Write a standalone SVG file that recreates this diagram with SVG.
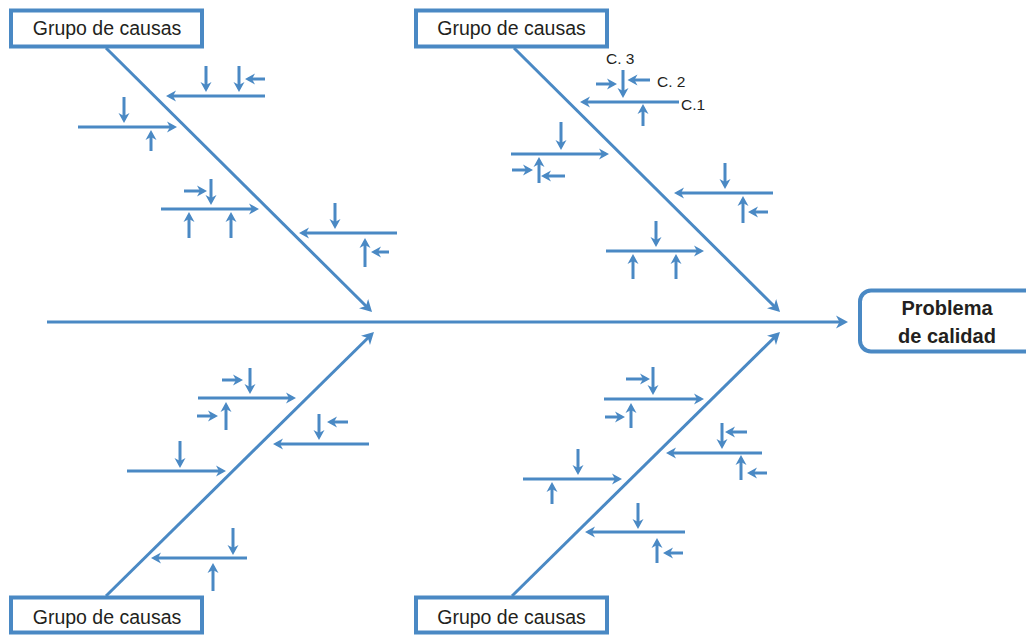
<svg xmlns="http://www.w3.org/2000/svg" width="1026" height="635" viewBox="0 0 1026 635">
<defs>
<style>
.box{fill:#fff;stroke:#4a89c4;stroke-width:4}
.lbl{font-family:"Liberation Sans",Arial,sans-serif;font-size:19.5px;fill:#231f20;text-anchor:middle}
.ttl{font-family:"Liberation Sans",Arial,sans-serif;font-size:20px;font-weight:bold;fill:#231f20;text-anchor:middle}
.c{font-family:"Liberation Sans",Arial,sans-serif;font-size:15.5px;fill:#231f20}
.main{fill:none;stroke:#4a89c4;stroke-width:3;marker-end:url(#big)}
.sub line{stroke:#4a89c4;stroke-width:3;marker-end:url(#sm)}
</style>
<marker id="sm" markerUnits="userSpaceOnUse" markerWidth="11" markerHeight="12" refX="6.5" refY="6" orient="auto">
<path d="M10,6 L0,0.5 L3,6 L0,11.5 z" fill="#4a89c4"/>
</marker>
<marker id="big" markerUnits="userSpaceOnUse" markerWidth="13" markerHeight="14" refX="7" refY="7" orient="auto">
<path d="M12,7 L0,0.5 L3.5,7 L0,13.5 z" fill="#4a89c4"/>
</marker>
</defs>
<rect width="1026" height="635" fill="#fff"/>
<g id="connectors">
<line class="main" x1="47" y1="322" x2="843" y2="322"/>
<line class="main" x1="106" y1="48" x2="368.5" y2="308.5"/>
<line class="main" x1="514" y1="48" x2="776.5" y2="308.5"/>
<line class="main" x1="106" y1="596" x2="370.4" y2="335.5"/>
<line class="main" x1="512" y1="596" x2="776.4" y2="335.5"/>
<g class="sub">
<line x1="265" y1="96" x2="169.5" y2="96"/>
<line x1="206" y1="66" x2="206" y2="88.5"/>
<line x1="239" y1="66" x2="239" y2="88.5"/>
<line x1="265" y1="79" x2="248.5" y2="79"/>
<line x1="78" y1="127" x2="173.5" y2="127"/>
<line x1="124" y1="97" x2="124" y2="119.5"/>
<line x1="151" y1="151" x2="151" y2="133.5"/>
<line x1="161" y1="209" x2="255.5" y2="209"/>
<line x1="211" y1="179" x2="211" y2="201.5"/>
<line x1="184" y1="191" x2="203.5" y2="191"/>
<line x1="189" y1="238" x2="189" y2="215.5"/>
<line x1="231" y1="238" x2="231" y2="215.5"/>
<line x1="397" y1="233" x2="302.5" y2="233"/>
<line x1="335" y1="203" x2="335" y2="225.5"/>
<line x1="365" y1="267" x2="365" y2="241.5"/>
<line x1="389" y1="252" x2="374.5" y2="252"/>
<line x1="679" y1="102" x2="583.5" y2="102"/>
<line x1="623" y1="70" x2="623" y2="94.5"/>
<line x1="596" y1="84" x2="613.5" y2="84"/>
<line x1="650" y1="80" x2="631" y2="80"/>
<line x1="643" y1="126" x2="643" y2="107.5"/>
<line x1="511" y1="154" x2="605.5" y2="154"/>
<line x1="561" y1="122" x2="561" y2="146.5"/>
<line x1="539" y1="183" x2="539" y2="160.5"/>
<line x1="512" y1="170" x2="529.5" y2="170"/>
<line x1="565" y1="176" x2="544.5" y2="176"/>
<line x1="773" y1="193" x2="677.5" y2="193"/>
<line x1="725" y1="163" x2="725" y2="185.5"/>
<line x1="743" y1="223" x2="743" y2="199.5"/>
<line x1="768" y1="212" x2="751.5" y2="212"/>
<line x1="606" y1="251" x2="700.5" y2="251"/>
<line x1="656" y1="221" x2="656" y2="243.5"/>
<line x1="633" y1="279" x2="633" y2="257.5"/>
<line x1="676" y1="279" x2="676" y2="257.5"/>
<line x1="198" y1="398" x2="292.5" y2="398"/>
<line x1="250" y1="368" x2="250" y2="390.5"/>
<line x1="222" y1="380" x2="239.5" y2="380"/>
<line x1="226" y1="430" x2="226" y2="405.5"/>
<line x1="197" y1="416" x2="214.5" y2="416"/>
<line x1="369" y1="444" x2="276.5" y2="444"/>
<line x1="319" y1="414" x2="319" y2="436.5"/>
<line x1="348" y1="422" x2="330.5" y2="422"/>
<line x1="127" y1="471" x2="222.5" y2="471"/>
<line x1="180" y1="441" x2="180" y2="464.5"/>
<line x1="247" y1="558" x2="154.5" y2="558"/>
<line x1="233" y1="528" x2="233" y2="551.5"/>
<line x1="213" y1="591" x2="213" y2="566.5"/>
<line x1="604" y1="399" x2="700.5" y2="399"/>
<line x1="653" y1="367" x2="653" y2="391.5"/>
<line x1="626" y1="379" x2="646.5" y2="379"/>
<line x1="631" y1="428" x2="631" y2="406.5"/>
<line x1="605" y1="417" x2="621.5" y2="417"/>
<line x1="762" y1="453" x2="669.5" y2="453"/>
<line x1="722" y1="423" x2="722" y2="445.5"/>
<line x1="747" y1="432" x2="728.5" y2="432"/>
<line x1="741" y1="480" x2="741" y2="458.5"/>
<line x1="767" y1="473" x2="750.5" y2="473"/>
<line x1="523" y1="479" x2="618.5" y2="479"/>
<line x1="578" y1="449" x2="578" y2="471.5"/>
<line x1="552" y1="504" x2="552" y2="485.5"/>
<line x1="685" y1="532" x2="588.5" y2="532"/>
<line x1="638" y1="503" x2="638" y2="525.5"/>
<line x1="657" y1="563" x2="657" y2="541.5"/>
<line x1="683" y1="553" x2="666.5" y2="553"/>
</g>
</g>
<g id="labels">
<text class="c" x="606" y="64">C. 3</text>
<text class="c" x="657" y="87">C. 2</text>
<text class="c" x="681" y="110">C.1</text>
</g>
<g id="group-top-left">
<rect class="box" x="11" y="10.5" width="191" height="36"/>
<text class="lbl" x="107" y="35">Grupo de causas</text>
</g>
<g id="group-top-right">
<rect class="box" x="416" y="10.5" width="191" height="36"/>
<text class="lbl" x="511.5" y="35">Grupo de causas</text>
</g>
<g id="group-bottom-left">
<rect class="box" x="11" y="597.5" width="191" height="35"/>
<text class="lbl" x="107" y="624">Grupo de causas</text>
</g>
<g id="group-bottom-right">
<rect class="box" x="416" y="597.5" width="191" height="35"/>
<text class="lbl" x="511.5" y="624">Grupo de causas</text>
</g>
<g id="problem">
<rect class="box" x="860" y="290.5" width="180" height="61" rx="11"/>
<text class="ttl" x="947" y="315">Problema</text>
<text class="ttl" x="947" y="343">de calidad</text>
</g>
</svg>
